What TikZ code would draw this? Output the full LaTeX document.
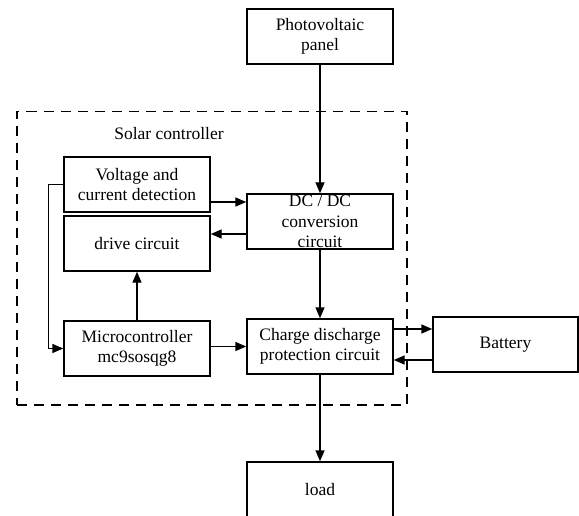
\documentclass[tikz,border=0pt]{standalone}
\usepackage{fontspec}
\setmainfont{Liberation Serif}
\usetikzlibrary{arrows.meta}
\begin{document}
\begin{tikzpicture}[x=1pt,y=-1pt,
  blk/.style={draw, line width=1.4pt, minimum width=146pt, minimum height=55pt, align=center, inner sep=0pt, font=\fontsize{17.5}{20.5}\selectfont},
  arr/.style={line width=1.4pt, -{Triangle[length=11pt,width=9pt]}},
  lbl/.style={font=\fontsize{17.5}{20.5}\selectfont, inner sep=0pt}]
\useasboundingbox (0,0) rectangle (579,516);
\node[draw, line width=1.4pt, dash pattern=on 10pt off 7pt, minimum width=390pt, minimum height=293.5pt, inner sep=0pt] (ctrl) at (212,258.25) {};
\node[lbl] (title) at (169,134) {Solar controller};
\node[blk] (pv) at (320,36.5) {Photovoltaic\\panel};
\node[blk] (volt) at (137,184.5) {Voltage and\\current detection};
\node[blk] (drive) at (137,243.5) {drive circuit};
\node[blk] (micro) at (137,348.5) {Microcontroller\\mc9sosqg8};
\node[blk] (dcdc) at (320,221.5) {DC / DC\\conversion\\circuit};
\node[blk] (charge) at (320,346.5) {Charge discharge\\protection circuit};
\node[blk, minimum width=145pt] (bat) at (505.5,344.5) {Battery};
\node[blk, minimum height=56pt] (load) at (320,490) {load};
\draw[arr] (pv.south) -- (dcdc.north);
\draw[arr] ([yshift=-17.5pt]volt.east) -- ([yshift=-17.5pt]volt.east -| dcdc.west);
\draw[arr] ([yshift=-12.5pt]dcdc.west) -- ([yshift=-12.5pt]dcdc.west -| drive.east);
\draw[arr] (volt.west) -- ++(-15,0) |- (micro.west);
\draw[arr] (micro.north) -- (drive.south);
\draw[arr] ([yshift=2pt]micro.east) -- ([yshift=2pt]micro.east -| charge.west);
\draw[arr] (dcdc.south) -- (charge.north);
\draw[arr] ([yshift=17.5pt]charge.east) -- ([yshift=17.5pt]charge.east -| bat.west);
\draw[arr] ([yshift=-15.5pt]bat.west) -- ([yshift=-15.5pt]bat.west -| charge.east);
\draw[arr] (charge.south) -- (load.north);
\end{tikzpicture}
\end{document}
